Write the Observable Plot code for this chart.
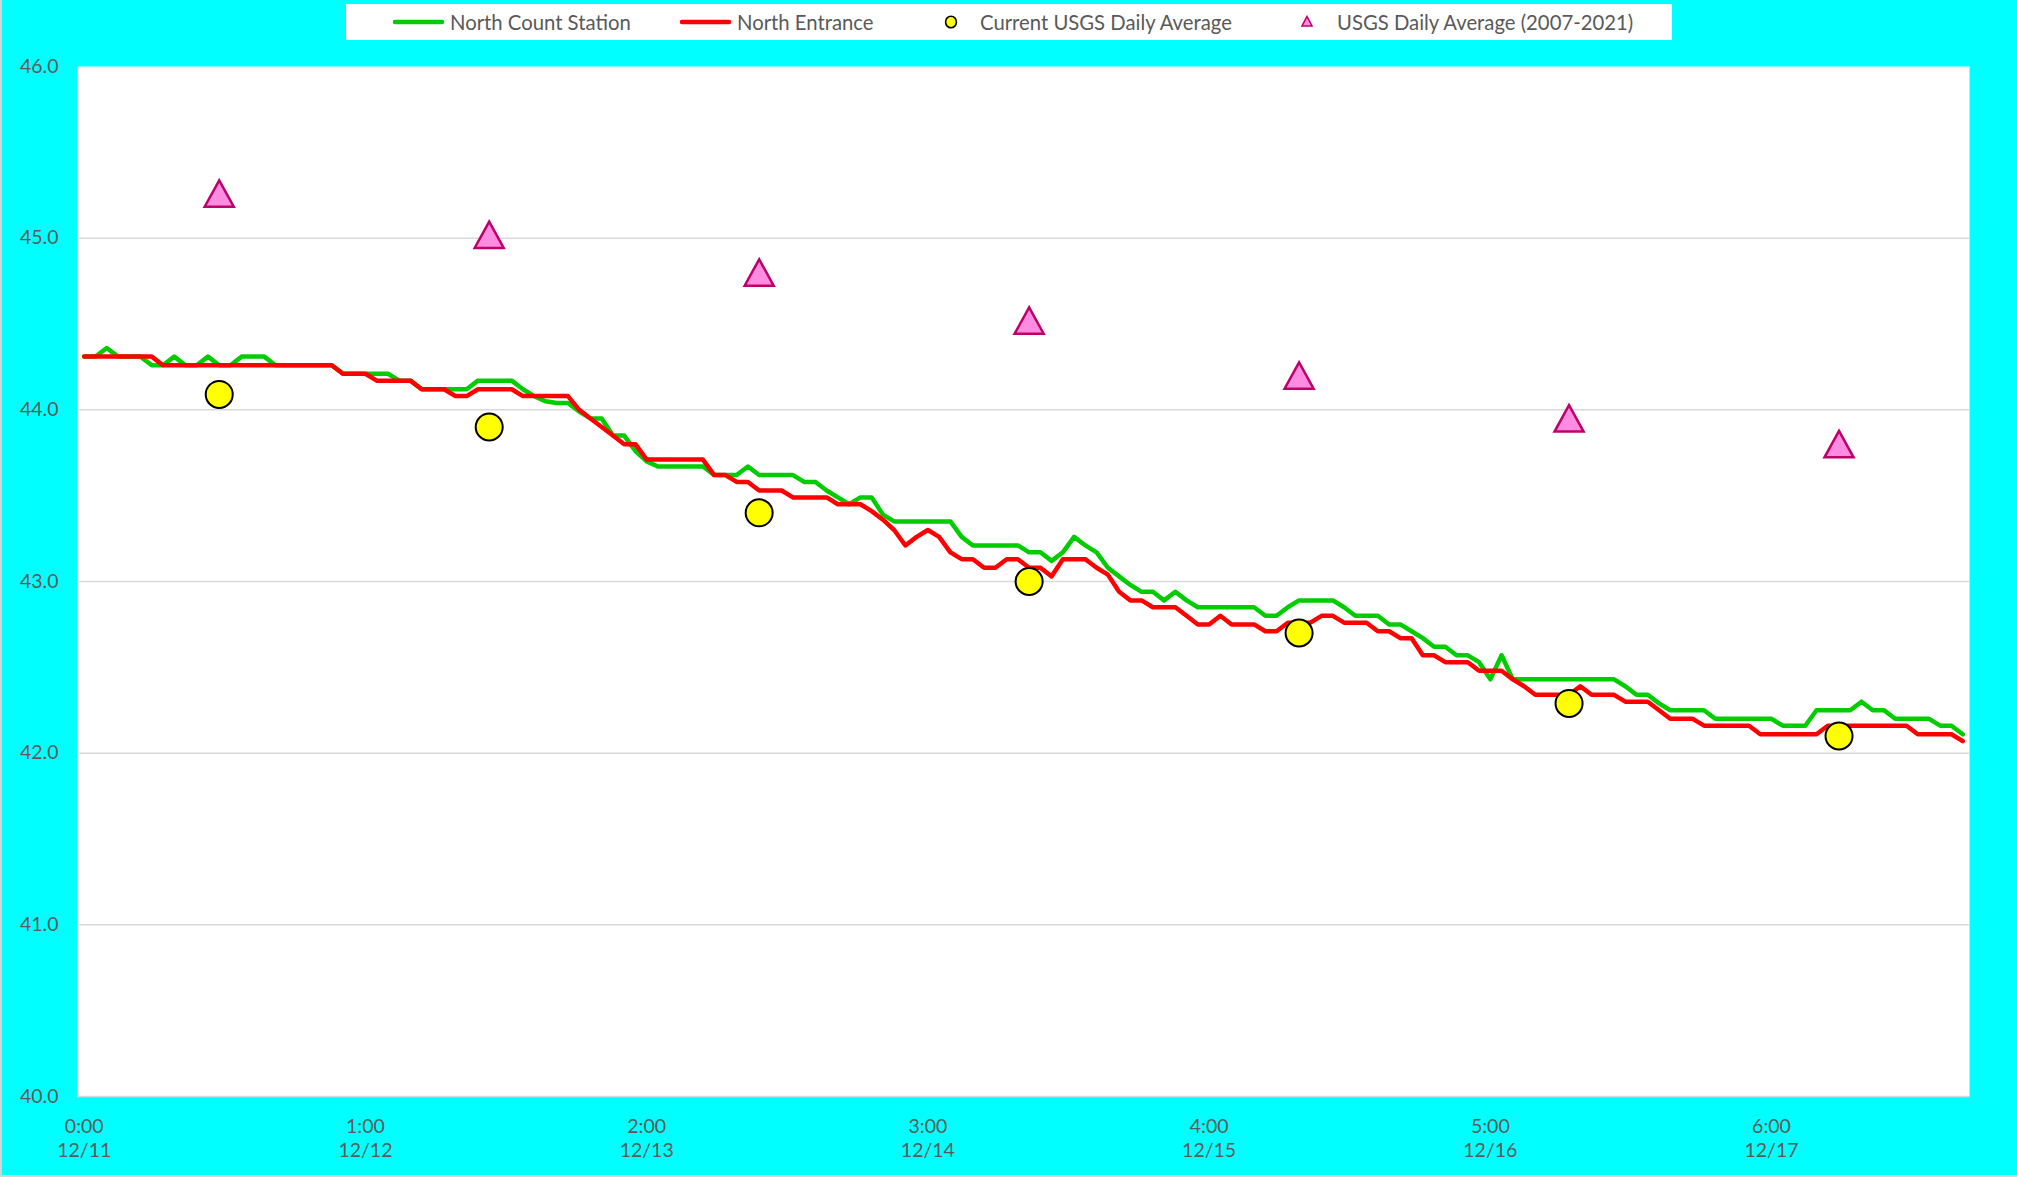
<!DOCTYPE html>
<html>
<head>
<meta charset="utf-8">
<script src="https://cdn.jsdelivr.net/npm/d3@7"></script>
<script src="https://cdn.jsdelivr.net/npm/@observablehq/plot@0.6"></script>
<style>
  html, body { margin: 0; padding: 0; background: #00ffff; }
  #chart { position: relative; width: 2017px; height: 1177px; background: #00ffff; overflow: hidden;
           font-family: Lato, "Liberation Sans", sans-serif; color: #595959; }
  #legend { position: relative; height: 44px; }
  #legendBox { position: absolute; left: 346px; top: 4px; width: 1326px; height: 36px; background: #ffffff; }
  .sw { position: absolute; top: 0; }
  .lt { position: absolute; top: 0; height: 36px; line-height: 36px; font-size: 20.3px; white-space: nowrap; }
  .edgeL { position: absolute; left: 0; top: 0; width: 2px; height: 1177px; background: #d4d4d4; }
  .edgeB { position: absolute; left: 0; bottom: 0; width: 2017px; height: 2px; background: #d4d4d4; }
  #plot { position: absolute; left: 0; top: 44px; }
</style>
</head>
<body>
<div id="chart">
  <div id="legend"><div id="legendBox"></div></div>
  <div id="plot"></div>
  <div class="edgeL"></div>
  <div class="edgeB"></div>
</div>
<script>
// ---- data (hourly, starting 12/11 0:00) ----
const seriesNames = ["North Count Station", "North Entrance", "Current USGS Daily Average", "USGS Daily Average (2007-2021)"];

const northCount = [
  44.31, 44.31, 44.36, 44.31, 44.31, 44.31, 44.26, 44.26, 44.31, 44.26, 44.26, 44.31,
  44.26, 44.26, 44.31, 44.31, 44.31, 44.26, 44.26, 44.26, 44.26, 44.26, 44.26, 44.21,
  44.21, 44.21, 44.21, 44.21, 44.17, 44.17, 44.12, 44.12, 44.12, 44.12, 44.12, 44.17,
  44.17, 44.17, 44.17, 44.12, 44.08, 44.05, 44.04, 44.04, 43.99, 43.95, 43.95, 43.85,
  43.85, 43.76, 43.70, 43.67, 43.67, 43.67, 43.67, 43.67, 43.62, 43.62, 43.62, 43.67,
  43.62, 43.62, 43.62, 43.62, 43.58, 43.58, 43.53, 43.49, 43.45, 43.49, 43.49, 43.39,
  43.35, 43.35, 43.35, 43.35, 43.35, 43.35, 43.26, 43.21, 43.21, 43.21, 43.21, 43.21,
  43.17, 43.17, 43.12, 43.17, 43.26, 43.21, 43.17, 43.08, 43.03, 42.98, 42.94, 42.94,
  42.89, 42.94, 42.89, 42.85, 42.85, 42.85, 42.85, 42.85, 42.85, 42.80, 42.80, 42.85,
  42.89, 42.89, 42.89, 42.89, 42.85, 42.80, 42.80, 42.80, 42.75, 42.75, 42.71, 42.67,
  42.62, 42.62, 42.57, 42.57, 42.53, 42.43, 42.57, 42.43, 42.43, 42.43, 42.43, 42.43,
  42.43, 42.43, 42.43, 42.43, 42.43, 42.39, 42.34, 42.34, 42.29, 42.25, 42.25, 42.25,
  42.25, 42.20, 42.20, 42.20, 42.20, 42.20, 42.20, 42.16, 42.16, 42.16, 42.25, 42.25,
  42.25, 42.25, 42.30, 42.25, 42.25, 42.20, 42.20, 42.20, 42.20, 42.16, 42.16, 42.11
];

const northEntrance = [
  44.31, 44.31, 44.31, 44.31, 44.31, 44.31, 44.31, 44.26, 44.26, 44.26, 44.26, 44.26,
  44.26, 44.26, 44.26, 44.26, 44.26, 44.26, 44.26, 44.26, 44.26, 44.26, 44.26, 44.21,
  44.21, 44.21, 44.17, 44.17, 44.17, 44.17, 44.12, 44.12, 44.12, 44.08, 44.08, 44.12,
  44.12, 44.12, 44.12, 44.08, 44.08, 44.08, 44.08, 44.08, 44.00, 43.95, 43.90, 43.85,
  43.80, 43.80, 43.71, 43.71, 43.71, 43.71, 43.71, 43.71, 43.62, 43.62, 43.58, 43.58,
  43.53, 43.53, 43.53, 43.49, 43.49, 43.49, 43.49, 43.45, 43.45, 43.45, 43.41, 43.36,
  43.30, 43.21, 43.26, 43.30, 43.26, 43.17, 43.13, 43.13, 43.08, 43.08, 43.13, 43.13,
  43.08, 43.08, 43.03, 43.13, 43.13, 43.13, 43.08, 43.04, 42.94, 42.89, 42.89, 42.85,
  42.85, 42.85, 42.80, 42.75, 42.75, 42.80, 42.75, 42.75, 42.75, 42.71, 42.71, 42.76,
  42.76, 42.76, 42.80, 42.80, 42.76, 42.76, 42.76, 42.71, 42.71, 42.67, 42.67, 42.57,
  42.57, 42.53, 42.53, 42.53, 42.48, 42.48, 42.48, 42.43, 42.39, 42.34, 42.34, 42.34,
  42.34, 42.39, 42.34, 42.34, 42.34, 42.30, 42.30, 42.30, 42.25, 42.20, 42.20, 42.20,
  42.16, 42.16, 42.16, 42.16, 42.16, 42.11, 42.11, 42.11, 42.11, 42.11, 42.11, 42.16,
  42.16, 42.16, 42.16, 42.16, 42.16, 42.16, 42.16, 42.11, 42.11, 42.11, 42.11, 42.07
];

const usgsHours   = [12, 36, 60, 84, 108, 132, 156];
const usgsCurrent = [44.09, 43.90, 43.40, 43.00, 42.70, 42.29, 42.10];
const usgsAverage = [45.26, 45.02, 44.80, 44.52, 44.20, 43.95, 43.80];

const xTickHours  = [0, 25, 50, 75, 100, 125, 150];
const xTickLabels = ["0:00\n12/11", "1:00\n12/12", "2:00\n12/13", "3:00\n12/14", "4:00\n12/15", "5:00\n12/16", "6:00\n12/17"];
const yTicks      = [40, 41, 42, 43, 44, 45, 46];
const yGrid       = [40, 41, 42, 43, 44, 45];

// ---- helpers ----
const toRows = (vals) => vals.map((v, i) => ({h: i, v}));
const pointRows = (vals) => usgsHours.map((h, i) => ({h, v: vals[i]}));

// triangle centered on its bounding box (like a spreadsheet marker)
const triangleSymbol = {
  draw(context, size) {
    const r = Math.sqrt(size / Math.PI);
    context.moveTo(0, -r);
    context.lineTo(1.1 * r, r);
    context.lineTo(-1.1 * r, r);
    context.closePath();
  }
};

// ---- legend ----
const box = document.getElementById("legendBox");
const legendItems = [
  {sw: `<svg width="60" height="36"><line x1="5" y1="18" x2="52" y2="18" stroke="#00cc00" stroke-width="4.5" stroke-linecap="round"/></svg>`, swLeft: 44, textLeft: 104},
  {sw: `<svg width="60" height="36"><line x1="5" y1="18" x2="52" y2="18" stroke="#ff0000" stroke-width="4.5" stroke-linecap="round"/></svg>`, swLeft: 331, textLeft: 391},
  {sw: `<svg width="20" height="36"><ellipse cx="10" cy="18" rx="5.4" ry="5.8" fill="#ffff00" stroke="#000" stroke-width="1.6"/></svg>`, swLeft: 595, textLeft: 634},
  {sw: `<svg width="20" height="36"><path d="M10,12.5 L15,22 L5,22 Z" fill="#ff8ce0" stroke="#c0006a" stroke-width="1.6"/></svg>`, swLeft: 951, textLeft: 991}
];
legendItems.forEach((it, i) => {
  const s = document.createElement("div");
  s.className = "sw"; s.style.left = it.swLeft + "px"; s.innerHTML = it.sw;
  box.appendChild(s);
  const t = document.createElement("div");
  t.className = "lt"; t.style.left = it.textLeft + "px"; t.textContent = seriesNames[i];
  box.appendChild(t);
});

// ---- chart ----
const chart = Plot.plot({
  width: 2017,
  height: 1133,
  marginTop: 22,
  marginBottom: 81,
  marginLeft: 77,
  marginRight: 48,
  style: {background: "transparent", fontFamily: "Lato, 'Liberation Sans', sans-serif", fontSize: "19.5px", color: "#595959"},
  x: {domain: [-0.6, 167.6]},
  y: {domain: [40, 46]},
  marks: [
    Plot.frame({fill: "#ffffff", stroke: "none"}),
    Plot.ruleY(yGrid, {stroke: "#d9d9d9", strokeWidth: 1.5}),
    Plot.axisY(yTicks, {tickSize: 0, tickPadding: 19, tickFormat: d => d.toFixed(1), label: null, fontSize: 19.5}),
    Plot.axisX(xTickHours, {tickSize: 0, tickPadding: 19, tickFormat: d => xTickLabels[xTickHours.indexOf(d)], label: null, fontSize: 19.5, lineHeight: 1.23}),
    Plot.line(toRows(northCount), {x: "h", y: "v", stroke: "#00cc00", strokeWidth: 4.5, strokeLinejoin: "round", strokeLinecap: "round"}),
    Plot.line(toRows(northEntrance), {x: "h", y: "v", stroke: "#ff0000", strokeWidth: 4.5, strokeLinejoin: "round", strokeLinecap: "round"}),
    Plot.dot(pointRows(usgsCurrent), {x: "h", y: "v", r: 13.5, fill: "#ffff00", stroke: "#000000", strokeWidth: 2}),
    Plot.dot(pointRows(usgsAverage), {x: "h", y: "v", r: 13.2, symbol: triangleSymbol, fill: "#ff8ce0", stroke: "#c0006a", strokeWidth: 2.5})
  ]
});
document.getElementById("plot").appendChild(chart);
</script>
</body>
</html>
